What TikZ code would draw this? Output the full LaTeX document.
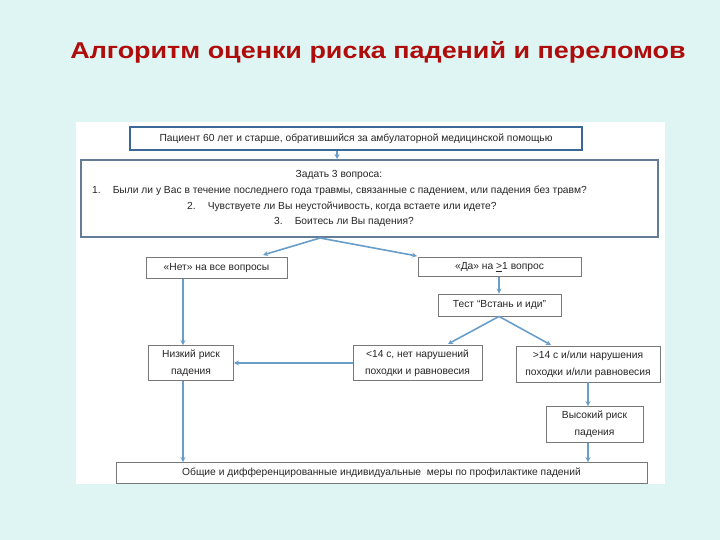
\documentclass[tikz,border=0pt]{standalone}
\usepackage{fontspec}
\setmainfont{Liberation Sans}
\usetikzlibrary{arrows.meta}
\definecolor{bgc}{RGB}{223,245,243}
\definecolor{titlec}{RGB}{175,12,12}
\definecolor{topc}{RGB}{60,105,150}
\definecolor{qc}{RGB}{100,125,150}
\definecolor{boxgray}{RGB}{120,120,120}
\definecolor{arrc}{RGB}{105,158,203}
\begin{document}
\begin{tikzpicture}[x=1bp,y=-1bp,
  box/.style={draw=boxgray, line width=0.8bp, fill=white, inner sep=0pt, align=center,
    font=\fontsize{10.3}{17}\selectfont, text=black!85},
  txt/.style={inner sep=0pt, font=\fontsize{10.3}{12}\selectfont, text=black!85},
  arr/.style={draw=arrc, line width=1.6bp, -{Stealth[length=5bp,width=5bp]}}]
\fill[bgc] (0,0) rectangle (720,540);
\useasboundingbox (0,0) rectangle (720,540);
\fill[white] (76,122) rectangle (665,484);
\node[font=\fontsize{23}{26}\bfseries, text=titlec, inner sep=0pt, xscale=1.175] (title) at (378,52) {Алгоритм оценки риска падений и переломов};
% boxes
\node[box, draw=topc, line width=2bp, minimum width=452bp, minimum height=23bp] (p) at (356,138.5)
  {Пациент 60 лет и старше, обратившийся за амбулаторной медицинской помощью};
\node[box, draw=qc, line width=2bp, minimum width=577bp, minimum height=77bp] (q) at (369.5,198.5) {};
\node[txt] (q0) at (339,175) {Задать 3 вопроса:};
\node[txt, anchor=west] (q1) at (92,191) {1.\hspace{12bp}Были ли у Вас в течение последнего года травмы, связанные с падением, или падения без травм?};
\node[txt, anchor=west] (q2) at (187,207) {2.\hspace{12bp}Чувствуете ли Вы неустойчивость, когда встаете или идете?};
\node[txt, anchor=west] (q3) at (274,222) {3.\hspace{12bp}Боитесь ли Вы падения?};
\node[box, minimum width=141bp, minimum height=21bp] (no) at (216.5,268) {«Нет» на все вопросы};
\node[box, minimum width=163bp, minimum height=19bp] (yes) at (499.5,267) {«Да» на \underline{>}1 вопрос};
\node[box, minimum width=123bp, minimum height=22bp] (test) at (499.5,305) {Тест “Встань и иди”};
\node[box, minimum width=85bp, minimum height=35bp] (low) at (191,363) {Низкий риск\\падения};
\node[box, minimum width=129bp, minimum height=35bp] (lt) at (417.5,363) {<14 с, нет нарушений\\походки и равновесия};
\node[box, minimum width=144bp, minimum height=36bp] (gt) at (588,364) {>14 с и/или нарушения\\походки и/или равновесия};
\node[box, minimum width=97bp, minimum height=36bp] (high) at (594.5,424.5) {Высокий риск\\падения};
\node[box, minimum width=531bp, minimum height=21bp] (all) at (381.5,473) {Общие и дифференцированные индивидуальные\ \ меры по профилактике падений};
% column coordinates
\coordinate (c1) at (337,0);
\coordinate (c2) at (320,0);
\coordinate (c3) at (183,0);
\coordinate (c4) at (499,0);
\coordinate (c5) at (588,0);
\coordinate (e1) at (263,255);
\coordinate (e2) at (417,256);
\coordinate (e3) at (448,344);
\coordinate (e4) at (551,345);
% connectors
\draw[arr] (p.south -| c1) -- (q.north -| c1);
\draw[arr] (q.south -| c2) -- (e1);
\draw[arr] (q.south -| c2) -- (e2);
\draw[arr] (no.south -| c3) -- (low.north -| c3);
\draw[arr] (yes.south -| c4) -- (test.north -| c4);
\draw[arr] (test.south -| c4) -- (e3);
\draw[arr] (test.south -| c4) -- (e4);
\draw[arr] (lt.west) -- (low.east);
\draw[arr] (gt.south -| c5) -- (high.north -| c5);
\draw[arr] (high.south -| c5) -- (all.north -| c5);
\draw[arr] (low.south -| c3) -- (all.north -| c3);
\end{tikzpicture}
\end{document}
